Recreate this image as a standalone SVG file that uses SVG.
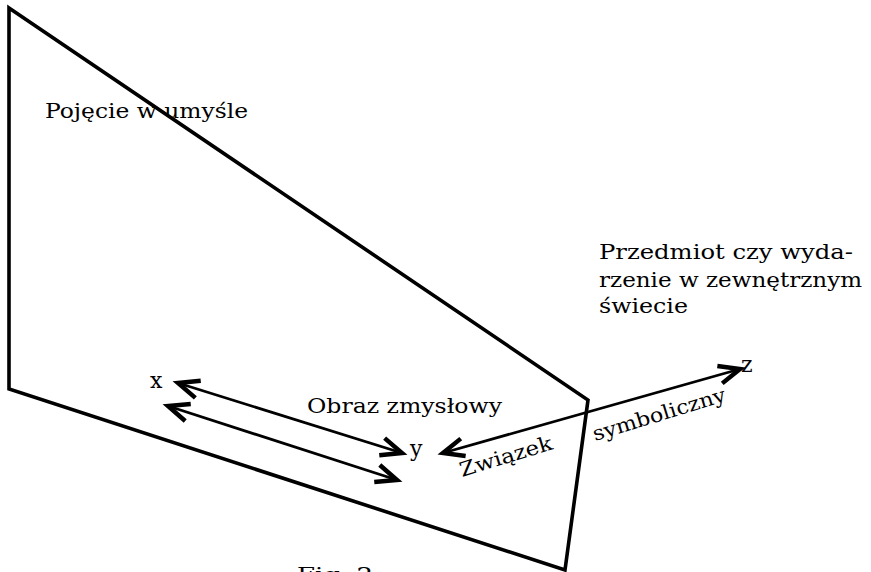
<svg xmlns="http://www.w3.org/2000/svg" width="871" height="572" viewBox="0 0 871 572">
  <style>
    .frame { fill: none; stroke: #000; stroke-width: 3.6; stroke-linejoin: miter; }
    .link { fill: none; stroke: #000; stroke-width: 2.8; }
    .lbl { font-family: "DejaVu Serif", "Liberation Serif", serif; font-size: 20px; fill: #000; }
    .pt { font-size: 22px; }
  </style>
  <defs>
    <marker id="head" markerUnits="userSpaceOnUse" markerWidth="30" markerHeight="30" viewBox="-16 -10 20 20" refX="0" refY="0" orient="auto-start-reverse">
      <path d="M-14,-6 L0,0 L-14,6" fill="none" stroke="#000" stroke-width="3" stroke-linejoin="miter"/>
    </marker>
  </defs>
  <rect width="871" height="572" fill="#fff"/>

  <!-- plane of the mind -->
  <g id="plane">
    <polygon class="frame" points="9,8 588,400 565,570 9,389"/>
  </g>

  <g id="labels">
    <text class="lbl" x="45" y="118" textLength="203" lengthAdjust="spacingAndGlyphs">Pojęcie w umyśle</text>
    <text class="lbl" x="307" y="413" textLength="195" lengthAdjust="spacingAndGlyphs">Obraz zmysłowy</text>
    <text class="lbl" x="599" y="259" textLength="254" lengthAdjust="spacingAndGlyphs">Przedmiot czy wyda-</text>
    <text class="lbl" x="599" y="287" textLength="263" lengthAdjust="spacingAndGlyphs">rzenie w zewnętrznym</text>
    <text class="lbl" x="599" y="313" textLength="89" lengthAdjust="spacingAndGlyphs">świecie</text>
    <text class="lbl" x="297" y="582" textLength="76" lengthAdjust="spacingAndGlyphs">Fig. 2</text>
  </g>

  <g id="node-x"><text class="lbl pt" x="150" y="388">x</text></g>
  <g id="node-y"><text class="lbl pt" x="410" y="456">y</text></g>
  <g id="node-z"><text class="lbl pt" x="741" y="372">z</text></g>

  <g id="connectors">
    <line class="link" x1="178" y1="383" x2="402" y2="453" marker-start="url(#head)" marker-end="url(#head)"/>
    <line class="link" x1="168" y1="406" x2="397" y2="480" marker-start="url(#head)" marker-end="url(#head)"/>
    <line class="link" x1="443" y1="453" x2="740" y2="369" marker-start="url(#head)" marker-end="url(#head)"/>
    <text class="lbl" transform="translate(462,477) rotate(-17)" textLength="96" lengthAdjust="spacingAndGlyphs">Związek</text>
    <text class="lbl" transform="translate(595,441) rotate(-17)" textLength="138" lengthAdjust="spacingAndGlyphs">symboliczny</text>
  </g>
</svg>
